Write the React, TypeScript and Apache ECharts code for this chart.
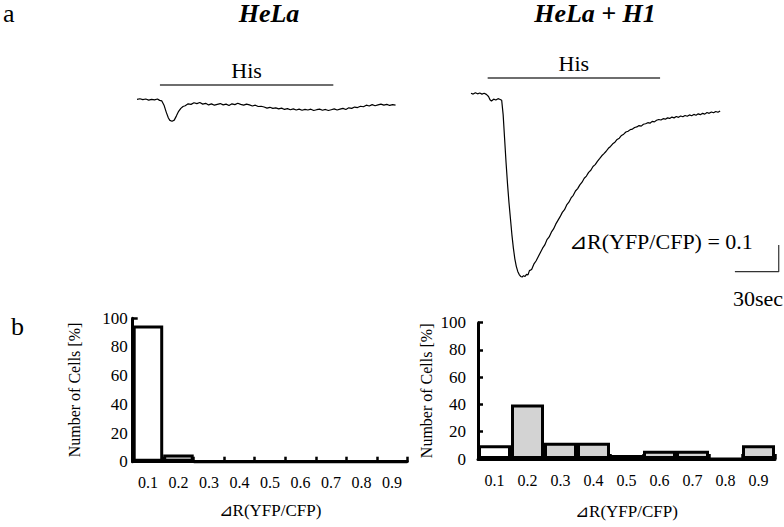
import React, { useEffect, useRef } from "react";
import * as echarts from "echarts";

// ---- Data ----
// Trace of HeLa cells: [time (s), ΔR(YFP/CFP)]
const HELA_TRACE: [number, number][] = [
  [0, 0.0], [2, 0.002], [4, -0.001], [6, 0.001], [8, -0.003], [10, 0.0], [12, -0.002], [14, 0.001],
  [15.5, -0.004], [17, -0.006], [18.5, -0.022], [20, -0.048], [21.5, -0.07], [22.5, -0.079], [24, -0.082],
  [25.5, -0.078], [27, -0.062], [28.5, -0.045], [30, -0.034], [31.5, -0.027], [33, -0.024], [35, -0.017],
  [37, -0.019], [39, -0.013], [41, -0.016], [43, -0.012], [45, -0.018], [47, -0.015], [49, -0.021],
  [51, -0.017], [53, -0.022], [55, -0.019], [57, -0.016], [59, -0.021], [61, -0.018], [63, -0.023],
  [65, -0.017], [67, -0.02], [69, -0.015], [71, -0.019], [73, -0.022], [75, -0.018], [77, -0.021],
  [79, -0.025], [81, -0.022], [83, -0.027], [85, -0.026], [87, -0.029], [89, -0.033], [91, -0.03],
  [93, -0.034], [95, -0.032], [97, -0.036], [99, -0.033], [101, -0.038], [103, -0.035], [105, -0.039],
  [107, -0.036], [109, -0.04], [111, -0.037], [113, -0.041], [115, -0.038], [117, -0.04], [119, -0.037],
  [121, -0.042], [123, -0.039], [125, -0.037], [127, -0.041], [129, -0.038], [131, -0.042], [133, -0.039],
  [135, -0.036], [137, -0.04], [139, -0.037], [141, -0.034], [143, -0.038], [145, -0.032], [147, -0.034],
  [149, -0.029], [151, -0.031], [153, -0.026], [155, -0.028], [157, -0.022], [159, -0.025], [161, -0.02],
  [163, -0.024], [165, -0.021], [167, -0.018], [169, -0.022], [171, -0.019], [173, -0.023], [175, -0.02],
  [177, -0.022],
];

// Trace of HeLa + H1 cells: [time (s), ΔR(YFP/CFP)]
const HELA_H1_TRACE: [number, number][] = [
  [0, 0.0], [1.5, -0.003], [3, 0.002], [4.5, -0.002], [6, 0.001], [7.5, -0.003], [9, 0.0], [10.5, -0.004],
  [12, -0.012], [13, -0.024], [14, -0.029], [15.5, -0.022], [17, -0.025], [18.5, -0.02], [20, -0.023],
  [21, -0.026], [22, -0.08], [23, -0.17], [24, -0.26], [25, -0.34], [26, -0.41], [27, -0.47], [28, -0.53],
  [29, -0.58], [30, -0.62], [31, -0.648], [32, -0.667], [33, -0.679], [34, -0.686], [35, -0.688],
  [36, -0.683], [37, -0.686], [38, -0.678], [39, -0.68], [40, -0.664], [41.5, -0.66], [43, -0.64],
  [44.5, -0.628], [46, -0.612], [47.5, -0.596], [49, -0.58], [50.5, -0.568], [52, -0.548], [53.5, -0.538],
  [55, -0.52], [56.5, -0.508], [58, -0.49], [59.5, -0.476], [61, -0.462], [62.5, -0.446], [64, -0.436],
  [65.5, -0.418], [67, -0.408], [68.5, -0.392], [70, -0.382], [71.5, -0.366], [73, -0.357], [74.5, -0.343],
  [76, -0.333], [77.5, -0.318], [79, -0.31], [80.5, -0.296], [82, -0.288], [83.5, -0.274], [85, -0.267],
  [86.5, -0.255], [88, -0.245], [89.5, -0.234], [91, -0.226], [92.5, -0.217], [94, -0.206], [95.5, -0.199],
  [97, -0.189], [98.5, -0.183], [100, -0.173], [101.5, -0.168], [103, -0.158], [104.5, -0.153],
  [106, -0.145], [107.5, -0.142], [109, -0.136], [110.5, -0.134], [112, -0.128], [113.5, -0.126],
  [115, -0.121], [116.5, -0.123], [118, -0.116], [119.5, -0.114], [121, -0.11], [122.5, -0.112],
  [124, -0.105], [125.5, -0.107], [127, -0.101], [128.5, -0.098], [130, -0.1], [131.5, -0.095],
  [133, -0.097], [134.5, -0.092], [136, -0.094], [137.5, -0.089], [139, -0.092], [140.5, -0.087],
  [142, -0.09], [143.5, -0.085], [145, -0.088], [146.5, -0.083], [148, -0.086], [149.5, -0.081],
  [151, -0.084], [152.5, -0.079], [154, -0.082], [155.5, -0.077], [157, -0.08], [158.5, -0.075],
  [160, -0.078], [161.5, -0.072], [163, -0.075], [164.5, -0.07], [166, -0.073], [167.5, -0.068],
  [169, -0.071], [170.5, -0.066],
];

// His application periods [start s, end s, level]
const HIS_HELA = [15.7, 134.4, 0.054];
const HIS_H1 = [11.4, 129.4, 0.059];

// Scale bar: 30 s horizontal, 0.1 ΔR vertical
const SCALE_BAR: [number, number][] = [
  [180.6, -0.668], [210.6, -0.668], [210.6, -0.568],
];

// Histograms
const BINS = ["0.1", "0.2", "0.3", "0.4", "0.5", "0.6", "0.7", "0.8", "0.9"];
const HELA_HIST = [95, 5, 0, 0, 0, 0, 0, 0, 0];
const HELA_H1_HIST = [10, 40, 12, 12, 3, 6, 6, 0, 10];
const Y_TICKS = [0, 20, 40, 60, 80, 100];

const FONT = "'Liberation Serif', 'Times New Roman', serif";

export default function App() {
  const ref = useRef<HTMLDivElement>(null);

  useEffect(() => {
    if (!ref.current) return;
    const chart = echarts.init(ref.current, null, { renderer: "svg" });

    const traceX = (gridIndex: number, max: number) => ({
      type: "value", gridIndex, min: 0, max, show: false,
    });
    const traceY = (gridIndex: number, min: number, max: number) => ({
      type: "value", gridIndex, min, max, show: false,
    });

    const histX = (gridIndex: number, nameGap: number) => ({
      type: "category",
      gridIndex,
      data: BINS,
      boundaryGap: true,
      name: "⊿R(YFP/CFP)",
      nameLocation: "middle",
      nameGap,
      nameTextStyle: { fontFamily: FONT, fontSize: 17, color: "#000" },
      axisLine: { show: true, lineStyle: { color: "#000", width: 3 } },
      axisTick: { show: true, inside: true, length: 5, lineStyle: { color: "#000", width: 2.5 } },
      axisLabel: { fontFamily: FONT, fontSize: 16, color: "#000", margin: 13 },
      splitLine: { show: false },
    });

    const histY = (gridIndex: number, labelMargin: number, nameGap: number) => ({
      type: "value",
      gridIndex,
      min: Y_TICKS[0],
      max: Y_TICKS[Y_TICKS.length - 1],
      interval: 20,
      name: "Number of Cells [%]",
      nameLocation: "middle",
      nameGap,
      nameTextStyle: { fontFamily: FONT, fontSize: 16, color: "#000" },
      axisLine: { show: true, lineStyle: { color: "#000", width: 3 } },
      axisTick: { show: true, inside: true, length: 5, lineStyle: { color: "#000", width: 2.5 } },
      axisLabel: { fontFamily: FONT, fontSize: 17, color: "#000", margin: labelMargin },
      splitLine: { show: false },
    });

    const hisMarkLine = (his: number[]) => ({
      silent: true,
      symbol: "none",
      lineStyle: { color: "#6e6e6e", width: 2, type: "solid" },
      label: {
        show: true,
        formatter: "His",
        position: "insideMiddleTop",
        distance: 3,
        fontFamily: FONT,
        fontSize: 22,
        color: "#000",
      },
      data: [[{ coord: [his[0], his[2]] }, { coord: [his[1], his[2]] }]],
    });

    const barFill = (p: any) => (p.dataIndex === 0 ? "#ffffff" : "#d3d3d3");

    chart.setOption({
      animation: false,
      backgroundColor: "#ffffff",
      grid: [
        { left: 137, width: 260, top: 72.6, height: 53.4 },
        { left: 471, width: 312.7, top: 66.6, height: 213.6 },
        { left: 132.7, width: 274.6, top: 318.3, height: 143.4 },
        { left: 478, width: 297, top: 322.7, height: 136.3 },
      ],
      xAxis: [
        traceX(0, 178),
        traceX(1, 214),
        histX(2, 40),
        histX(3, 44),
      ],
      yAxis: [
        traceY(0, -0.1, 0.1),
        traceY(1, -0.7, 0.1),
        histY(2, 5, 50),
        histY(3, 12, 44),
      ],
      series: [
        {
          type: "line", xAxisIndex: 0, yAxisIndex: 0, data: HELA_TRACE,
          showSymbol: false, symbol: "none", clip: false,
          lineStyle: { color: "#000", width: 1.2 },
          markLine: hisMarkLine(HIS_HELA),
        },
        {
          type: "line", xAxisIndex: 1, yAxisIndex: 1, data: HELA_H1_TRACE,
          showSymbol: false, symbol: "none", clip: false,
          lineStyle: { color: "#000", width: 1.2 },
          markLine: hisMarkLine(HIS_H1),
        },
        {
          type: "line", xAxisIndex: 1, yAxisIndex: 1, data: SCALE_BAR,
          showSymbol: false, symbol: "none", clip: false,
          lineStyle: { color: "#333", width: 1.2 },
        },
        {
          type: "bar", xAxisIndex: 2, yAxisIndex: 2, data: HELA_HIST,
          barCategoryGap: "0%",
          itemStyle: { color: barFill, borderColor: "#000", borderWidth: 3 },
        },
        {
          type: "bar", xAxisIndex: 3, yAxisIndex: 3, data: HELA_H1_HIST,
          barCategoryGap: "0%",
          itemStyle: { color: barFill, borderColor: "#000", borderWidth: 3 },
        },
      ],
      graphic: [
        { type: "text", left: 3, top: 0, style: { text: "a", fontFamily: FONT, fontSize: 26, fill: "#000" } },
        { type: "text", left: 11, top: 313, style: { text: "b", fontFamily: FONT, fontSize: 26, fill: "#000" } },
        {
          type: "text", x: 269, y: 13,
          style: { text: "HeLa", fontFamily: FONT, fontSize: 26, fontWeight: "bold", fontStyle: "italic", fill: "#000", align: "center", verticalAlign: "middle" },
        },
        {
          type: "text", x: 595, y: 13,
          style: { text: "HeLa + H1", fontFamily: FONT, fontSize: 26, fontWeight: "bold", fontStyle: "italic", fill: "#000", align: "center", verticalAlign: "middle" },
        },
        {
          type: "text", x: 569, y: 241,
          style: { text: "⊿R(YFP/CFP) = 0.1", fontFamily: FONT, fontSize: 22, fill: "#000", align: "left", verticalAlign: "middle" },
        },
        {
          type: "text", x: 783, y: 298,
          style: { text: "30sec", fontFamily: FONT, fontSize: 22, fill: "#000", align: "right", verticalAlign: "middle" },
        },
      ],
    });

    return () => chart.dispose();
  }, []);

  return (
    <div
      ref={ref}
      style={{ position: "absolute", left: 0, top: 0, width: 784, height: 527 }}
    />
  );
}
